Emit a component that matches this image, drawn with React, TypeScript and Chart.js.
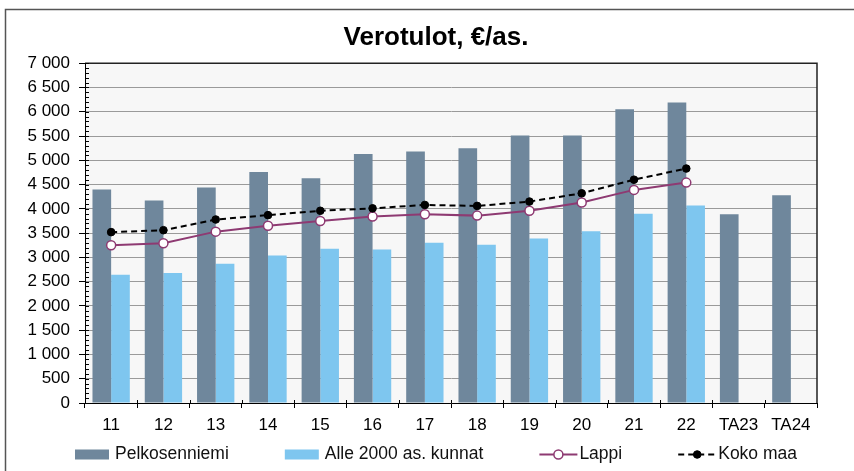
import React, { useEffect, useRef } from "react";
import { Chart, registerables } from "chart.js";

Chart.register(...registerables);

const categories = ["11", "12", "13", "14", "15", "16", "17", "18", "19", "20", "21", "22", "TA23", "TA24"];
const pelkosenniemi = [4400, 4170, 4440, 4760, 4630, 5130, 5180, 5250, 5510, 5510, 6050, 6190, 3890, 4280];
const alle2000 = [2640, 2680, 2870, 3040, 3180, 3160, 3300, 3260, 3390, 3540, 3900, 4070, null, null];
const lappi = [3250, 3290, 3530, 3650, 3750, 3840, 3890, 3860, 3960, 4130, 4390, 4540, null, null];
const kokoMaa = [3520, 3560, 3780, 3870, 3960, 4010, 4080, 4060, 4150, 4320, 4600, 4830, null, null];

const seriesLabels = ["Pelkosenniemi", "Alle 2000 as. kunnat", "Lappi", "Koko maa"];
const titleText = "Verotulot, €/as.";

const FONT = '"Liberation Sans", Arial, sans-serif';
const DARK = "#6f879c";
const LIGHT = "#7ec6ef";
const PLUM = "#8e3a72";
const LEFT_PAD = 18;

const fmt = (v: number) =>
  v >= 1000 ? `${Math.floor(v / 1000)} ${String(v % 1000).padStart(3, "0")}` : String(v);

const decorPlugin = {
  id: "decor",
  beforeDraw(chart: any) {
    const { ctx, chartArea: a } = chart;
    ctx.save();
    ctx.fillStyle = "#f7f7f7";
    ctx.fillRect(a.left, a.top, a.right - a.left, a.bottom - a.top);
    ctx.strokeStyle = "#555";
    ctx.lineWidth = 1.5;
    ctx.beginPath();
    ctx.moveTo(5.5, chart.height);
    ctx.lineTo(5.5, 9.5);
    ctx.lineTo(chart.width, 9.5);
    ctx.stroke();
    ctx.restore();
  },
  afterDraw(chart: any) {
    const { ctx, chartArea: a } = chart;
    const y = chart.scales.y;
    ctx.save();
    // plot border top & right
    ctx.strokeStyle = "#222";
    ctx.lineWidth = 1.5;
    ctx.beginPath();
    ctx.moveTo(a.left, a.top);
    ctx.lineTo(a.right, a.top);
    ctx.lineTo(a.right, a.bottom);
    ctx.stroke();
    // minor ticks
    ctx.strokeStyle = "#000";
    ctx.lineWidth = 1;
    ctx.beginPath();
    for (let v = 0; v <= 7000; v += 100) {
      const py = Math.round(y.getPixelForValue(v)) + 0.5;
      ctx.moveTo(a.left, py);
      ctx.lineTo(a.left + 4, py);
    }
    ctx.stroke();
    // x tick stubs above axis
    const xs = chart.scales.x;
    ctx.beginPath();
    for (let i = 1; i < categories.length; i++) {
      const px = Math.round((xs.getPixelForTick(i - 1) + xs.getPixelForTick(i)) / 2) + 0.5;
      ctx.moveTo(px, a.bottom);
      ctx.lineTo(px, a.bottom - 3);
    }
    ctx.stroke();

    // legend
    ctx.font = `17.5px ${FONT}`;
    ctx.textBaseline = "middle";
    ctx.fillStyle = "#111";
    const ds = chart.data.datasets;
    const gap = 56;
    const items = ds.map((d: any) => {
      const isBar = (d.type || "bar") === "bar";
      const sw = isBar ? 34 : 38;
      const sg = isBar ? 6 : 2;
      const tw = ctx.measureText(d.label).width;
      return { d, isBar, sw, sg, tw };
    });
    const total = items.reduce((s: number, it: any) => s + it.sw + it.sg + it.tw, 0) + gap * (items.length - 1);
    let x = (LEFT_PAD + chart.width) / 2 - total / 2;
    const ly = 454.5;
    items.forEach((it: any) => {
      const d = it.d;
      if (it.isBar) {
        ctx.fillStyle = d.backgroundColor;
        ctx.fillRect(x, ly - 5, it.sw, 10);
      } else {
        ctx.strokeStyle = d.borderColor;
        ctx.lineWidth = 2;
        ctx.setLineDash(d.borderDash || []);
        ctx.beginPath();
        ctx.moveTo(x, ly);
        ctx.lineTo(x + it.sw, ly);
        ctx.stroke();
        ctx.setLineDash([]);
        ctx.beginPath();
        ctx.arc(x + it.sw / 2, ly, d.pointRadius, 0, Math.PI * 2);
        ctx.fillStyle = d.pointBackgroundColor;
        ctx.fill();
        ctx.lineWidth = d.pointBorderWidth;
        ctx.strokeStyle = d.pointBorderColor;
        ctx.stroke();
      }
      ctx.fillStyle = "#111";
      ctx.fillText(d.label, x + it.sw + it.sg, ly);
      x += it.sw + it.sg + it.tw + gap;
    });
    ctx.restore();
  },
};

export default function App() {
  const ref = useRef<HTMLCanvasElement>(null);
  useEffect(() => {
    if (!ref.current) return;
    Chart.defaults.font.family = FONT;
    const chart = new Chart(ref.current, {
      type: "bar",
      data: {
        labels: categories,
        datasets: [
          {
            type: "bar",
            label: seriesLabels[0],
            data: pelkosenniemi,
            backgroundColor: DARK,
            categoryPercentage: 0.714,
            barPercentage: 1,
            order: 2,
          },
          {
            type: "bar",
            label: seriesLabels[1],
            data: alle2000,
            backgroundColor: LIGHT,
            categoryPercentage: 0.714,
            barPercentage: 1,
            order: 2,
          },
          {
            type: "line",
            label: seriesLabels[2],
            data: lappi,
            borderColor: PLUM,
            borderWidth: 2,
            pointRadius: 4.5,
            pointBackgroundColor: "#ffffff",
            pointBorderColor: PLUM,
            pointBorderWidth: 1.5,
            order: 1,
          },
          {
            type: "line",
            label: seriesLabels[3],
            data: kokoMaa,
            borderColor: "#000000",
            borderWidth: 2,
            borderDash: [6, 4],
            pointRadius: 3.8,
            pointBackgroundColor: "#000000",
            pointBorderColor: "#000000",
            pointBorderWidth: 1,
            order: 0,
          },
        ] as any,
      },
      options: {
        animation: false,
        responsive: true,
        maintainAspectRatio: false,
        layout: { padding: { left: LEFT_PAD, right: 0, top: 0, bottom: 38 } },
        plugins: {
          legend: { display: false },
          tooltip: { enabled: false },
          title: {
            display: true,
            text: titleText,
            color: "#000",
            font: { family: FONT, size: 26, weight: "bold" },
            padding: { top: 22.5, bottom: 9.5 },
          },
        },
        scales: {
          x: {
            grid: {
              display: true,
              drawOnChartArea: false,
              drawTicks: true,
              tickLength: 5,
              tickColor: "#000",
              offset: true,
            },
            border: { display: true, color: "#000", width: 1 },
            ticks: { color: "#000", font: { size: 17 }, padding: 7, maxRotation: 0, autoSkip: false },
            afterFit: (s: any) => {
              s.height = 30;
            },
          },
          y: {
            min: 0,
            max: 7000,
            ticks: {
              stepSize: 500,
              color: "#000",
              font: { size: 17 },
              padding: 9,
              callback: (v: any) => fmt(Number(v)),
            },
            grid: {
              color: "#9a9a9a",
              borderDash: [2, 2],
              tickColor: "#000",
              tickLength: 6,
              tickBorderDash: [],
            } as any,
            border: { display: true, color: "#000", width: 1 },
            afterFit: (s: any) => {
              s.width = 67;
            },
          },
          y2: {
            position: "right",
            display: true,
            grid: { display: false },
            ticks: { display: false },
            border: { display: false },
            afterFit: (s: any) => {
              s.width = 37;
            },
          },
        },
      } as any,
      plugins: [decorPlugin],
    });
    return () => chart.destroy();
  }, []);
  return (
    <div style={{ position: "absolute", left: 0, top: 0, width: 854, height: 471 }}>
      <canvas ref={ref} />
    </div>
  );
}
